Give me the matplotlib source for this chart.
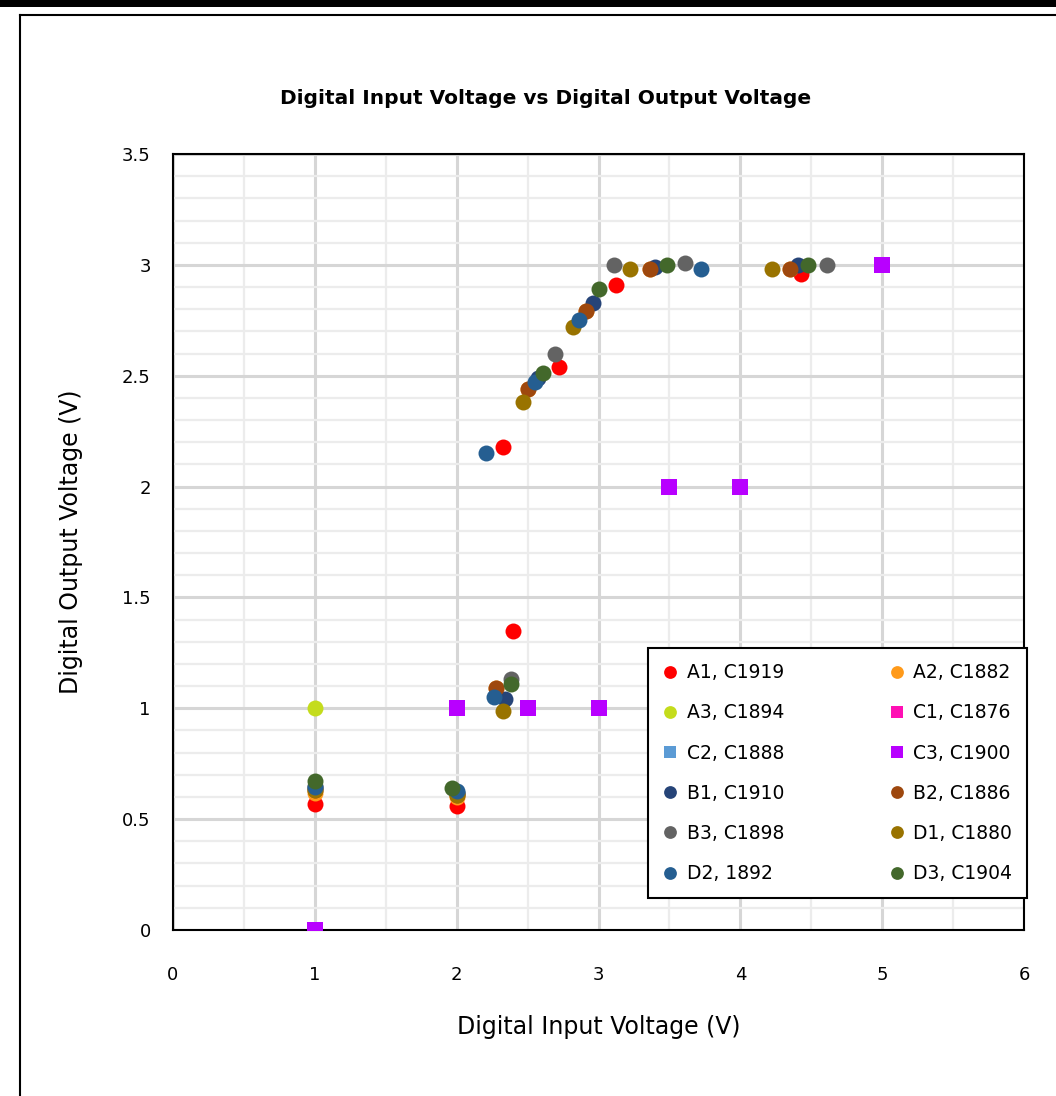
import matplotlib
matplotlib.use("Agg")
import matplotlib.pyplot as plt
from matplotlib.lines import Line2D
from matplotlib.patches import Rectangle
from matplotlib.ticker import MultipleLocator

# series names, colours, marker shapes
names = ["A1, C1919", "A2, C1882", "A3, C1894", "C1, C1876", "C2, C1888", "C3, C1900",
         "B1, C1910", "B2, C1886", "B3, C1898", "D1, C1880", "D2, 1892", "D3, C1904"]
colors = ["#ff0000", "#ff9a1a", "#c4dc1c", "#ff0fb4", "#5b9bd5", "#b800ff",
          "#264478", "#9e480e", "#636363", "#997300", "#255e91", "#43682b"]
markers = ["o", "o", "o", "s", "s", "s", "o", "o", "o", "o", "o", "o"]

# values
a1_x = [1, 2, 2.40, 2.33, 2.72, 3.12, 4.43]
a1_y = [0.57, 0.56, 1.35, 2.18, 2.54, 2.91, 2.96]
a2_x = [1, 2, 2.28, 2.50, 2.91, 3.36, 4.35]
a2_y = [0.62, 0.60, 1.09, 2.44, 2.79, 2.98, 2.98]
a3_x = [1]
a3_y = [1.0]
c_x = [1, 2, 2.5, 3, 3.5, 4, 5]
c_y = [0, 1, 1, 1, 2, 2, 3]
b1_x = [1, 2, 2.34, 2.57, 2.96, 3.40, 4.41]
b1_y = [0.64, 0.62, 1.04, 2.49, 2.83, 2.99, 3.00]
b2_x = [1, 2, 2.28, 2.50, 2.91, 3.36, 4.35]
b2_y = [0.63, 0.61, 1.09, 2.44, 2.79, 2.98, 2.98]
b3_x = [1, 2, 2.38, 2.69, 3.11, 3.61, 4.61]
b3_y = [0.65, 0.62, 1.13, 2.60, 3.00, 3.01, 3.00]
d1_x = [1, 2, 2.33, 2.47, 2.82, 3.22, 4.22]
d1_y = [0.63, 0.61, 0.99, 2.38, 2.72, 2.98, 2.98]
d2_x = [1, 2, 2.26, 2.21, 2.55, 2.86, 3.72]
d2_y = [0.645, 0.625, 1.05, 2.15, 2.47, 2.75, 2.98]
d3_x = [1, 1.97, 2.38, 2.61, 3.00, 3.48, 4.48]
d3_y = [0.67, 0.64, 1.11, 2.51, 2.89, 3.00, 3.00]

xs = [a1_x, a2_x, a3_x, c_x, c_x, c_x, b1_x, b2_x, b3_x, d1_x, d2_x, d3_x]
ys = [a1_y, a2_y, a3_y, c_y, c_y, c_y, b1_y, b2_y, b3_y, d1_y, d2_y, d3_y]

W, H = 1056, 1096
fig = plt.figure(figsize=(W / 100, H / 100), dpi=100)
ax = fig.add_axes([173 / W, 1 - 930 / H, (1024 - 173) / W, (930 - 154) / H])

handles = []
for x, y, c, m, n in zip(xs, ys, colors, markers, names):
    h, = ax.plot(x, y, linestyle="none", marker=m, color=c, markersize=11.5,
                 markeredgewidth=0, label=n, zorder=3)
    handles.append(h)

ax.set_xlim(0, 6)
ax.set_ylim(0, 3.5)
ax.xaxis.set_major_locator(MultipleLocator(1))
ax.xaxis.set_minor_locator(MultipleLocator(0.5))
ax.yaxis.set_major_locator(MultipleLocator(0.5))
ax.yaxis.set_minor_locator(MultipleLocator(0.1))
ax.grid(which="major", color="#d6d6d6", linewidth=2.2, zorder=0)
ax.grid(which="minor", color="#ececec", linewidth=1.6, zorder=0)
ax.set_axisbelow(True)
ax.tick_params(which="both", length=0)
ax.tick_params(axis="x", pad=26, labelsize=13)
ax.tick_params(axis="y", pad=16, labelsize=13)
ax.set_yticks([0, 0.5, 1, 1.5, 2, 2.5, 3, 3.5])
ax.set_yticklabels(["0", "0.5", "1", "1.5", "2", "2.5", "3", "3.5"])
for s in ax.spines.values():
    s.set_color("black")
    s.set_linewidth(1.5)

ax.set_xlabel("Digital Input Voltage (V)", fontsize=17, labelpad=22)
ax.set_ylabel("Digital Output Voltage (V)", fontsize=17, labelpad=28)

fig.text(546 / W, 1 - 98 / H, "Digital Input Voltage vs Digital Output Voltage",
         ha="center", va="center", fontsize=14.5, fontweight="bold")

order = [0, 2, 4, 6, 8, 10, 1, 3, 5, 7, 9, 11]
leg = ax.legend([handles[i] for i in order], [names[i] for i in order], ncol=2,
                loc="lower left", bbox_to_anchor=(0.558, 0.041, 0.446, 0.322),
                mode="expand", fontsize=13.5, frameon=True, fancybox=False,
                edgecolor="black", framealpha=1, markerscale=0.8,
                handlelength=0.8, handletextpad=0.5, labelspacing=1.13,
                borderpad=0.8, columnspacing=1.0, borderaxespad=0)
leg.get_frame().set_linewidth(1.5)
leg.set_zorder(5)

# outer chart frame
fig.add_artist(Rectangle((0, 1 - 7 / H), 1, 7 / H, transform=fig.transFigure,
                         color="black", lw=0))
fig.add_artist(Line2D([20 / W, 20 / W], [0, 1 - 15 / H], transform=fig.transFigure,
                      color="black", lw=1.5))
fig.add_artist(Line2D([20 / W, 1], [1 - 15 / H, 1 - 15 / H], transform=fig.transFigure,
                      color="black", lw=1.5))

fig.savefig("out.png", dpi=100)
